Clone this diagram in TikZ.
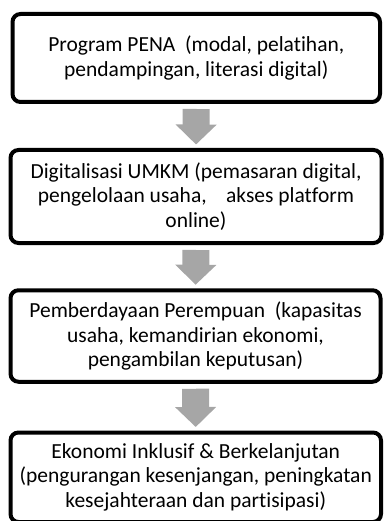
\documentclass[tikz,border=0pt]{standalone}
\usepackage{fontspec}
\setmainfont{Carlito}[Ligatures={NoCommon,NoContextual},Contextuals=NoAlternate,
    RawFeature=-liga,RawFeature=-rlig,RawFeature=-dlig,RawFeature=-ccmp]
\usepackage{tikz}
\usetikzlibrary{arrows.meta}
\definecolor{arrowgray}{RGB}{166,166,166}

\begin{document}
\begin{tikzpicture}[x=1pt,y=-1pt,
    box/.style={draw=black,line width=4pt,rounded corners=8pt,align=center,
        inner sep=0pt,outer sep=0pt,font=\fontsize{21.5}{24.5}\selectfont},
    flow/.style={color=arrowgray,line width=27pt,
        -{Triangle[length=20pt,width=40pt]},shorten <=7pt,shorten >=5.5pt}]
    \useasboundingbox (0,0) rectangle (383,521);

    \node[box,minimum width=367.5pt,minimum height=88pt] (PENA) at (196.25,58) {Program PENA\ \ (modal, pelatihan,\\pendampingan, literasi digital)};
    \node[box,minimum width=371pt,minimum height=93pt] (UMKM) at (196,196.5) {Digitalisasi UMKM (pemasaran digital,\\pengelolaan usaha,\ \ \ \ akses platform\\online)};
    \node[box,minimum width=370pt,minimum height=91.5pt] (PEREMPUAN) at (195.5,336) {Pemberdayaan Perempuan\ \ (kapasitas\\usaha, kemandirian ekonomi,\\pengambilan keputusan)};
    \node[box,minimum width=370.5pt,minimum height=89.5pt] (EKONOMI) at (195.75,477.25) {Ekonomi Inklusif \& Berkelanjutan\\(pengurangan kesenjangan, peningkatan\\kesejahteraan dan partisipasi)};

    \draw [flow] (PENA.south) -- (UMKM.north);
    \draw [flow] (UMKM.south) -- (PEREMPUAN.north);
    \draw [flow] (PEREMPUAN.south) -- (EKONOMI.north);
\end{tikzpicture}
\end{document}
